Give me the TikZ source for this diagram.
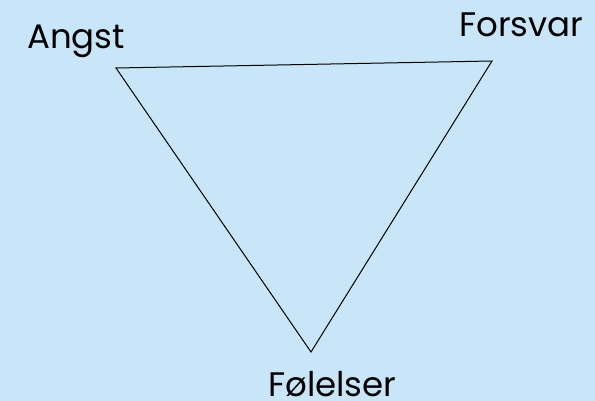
\documentclass[tikz,border=0pt]{standalone}
\usepackage{fontspec}
\setmainfont{Poppins}
\usepackage{tikz}
\usetikzlibrary{positioning}
\definecolor{bgblue}{RGB}{200, 230, 248}

\begin{document}
\begin{tikzpicture}[
    x=1pt, y=-1pt,
    lbl/.style={inner sep=0pt, anchor=base west, font=\fontsize{34}{36}\selectfont},
    edge/.style={line width=1pt, black},
]

% Background
\fill[bgblue] (0,0) rectangle (595,401);
\useasboundingbox (0,0) rectangle (595,401);

% Corners
\coordinate (angst) at (116,68);
\coordinate (forsvar) at (492,61);
\coordinate (folelser) at (311,352);

% Labels
\node[lbl] (angstlbl) at (27,49) {Angst};
\node[lbl] (forsvarlbl) at (459,37) {Forsvar};
\node[lbl] (folelserlbl) at (268,396) {Følelser};

% Triangle
\draw[edge] (angst) -- (forsvar) -- (folelser) -- cycle;

\end{tikzpicture}
\end{document}
